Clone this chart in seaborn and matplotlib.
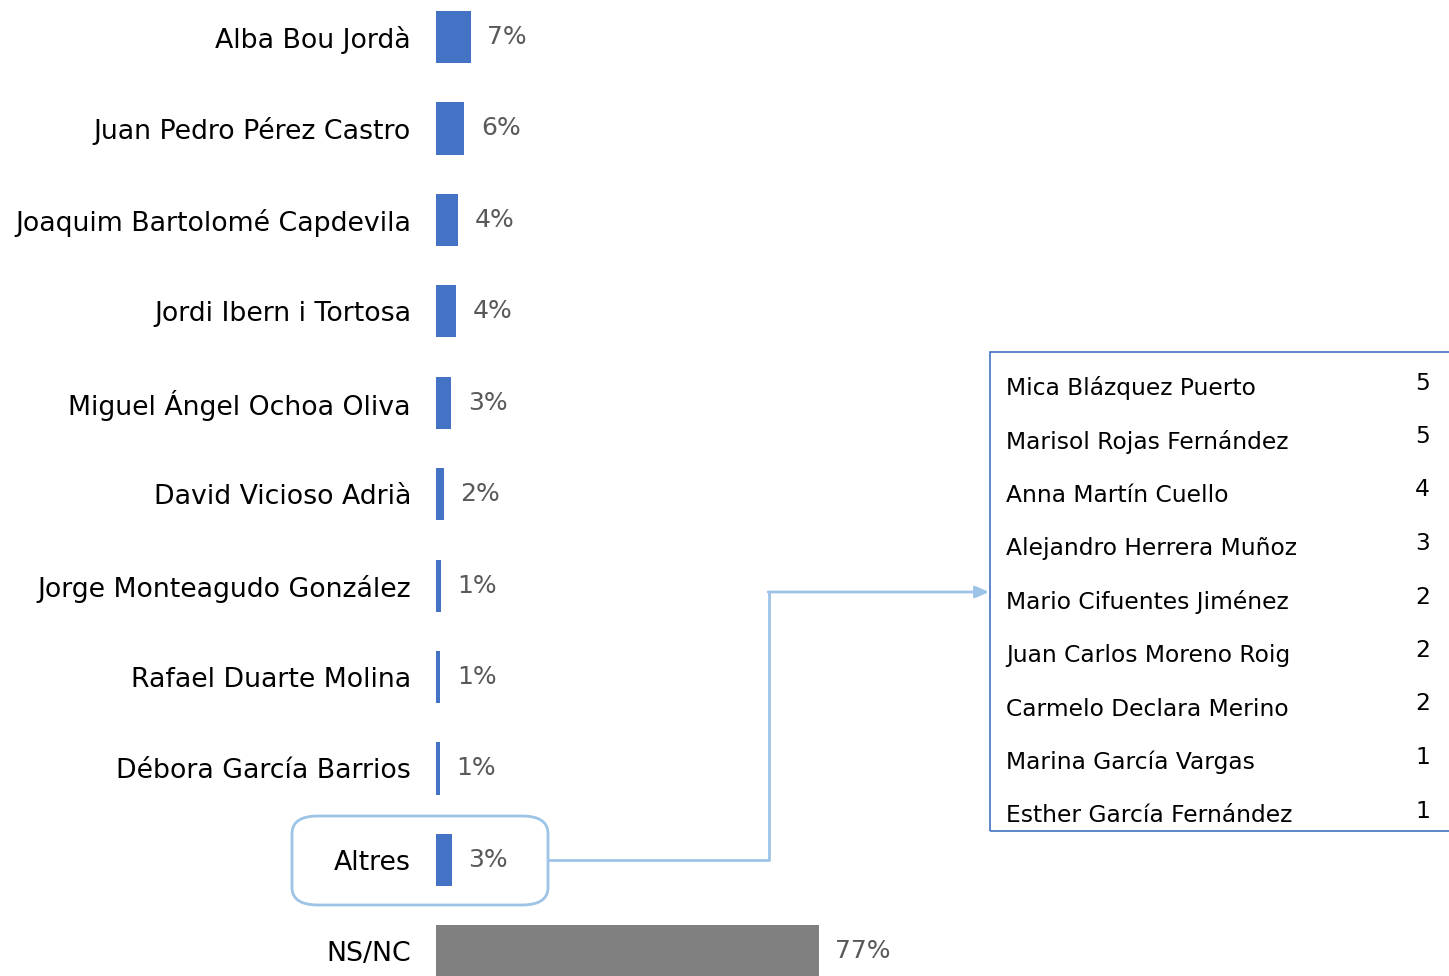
import numpy as np
import matplotlib.pyplot as plt
import seaborn as sns
from matplotlib.patches import FancyBboxPatch, Rectangle
from matplotlib.lines import Line2D

sns.set_style("white")
plt.rcParams["font.family"] = ["DejaVu Sans"]

# Main bar data
candidates = [
    "Alba Bou Jordà",
    "Juan Pedro Pérez Castro",
    "Joaquim Bartolomé Capdevila",
    "Jordi Ibern i Tortosa",
    "Miguel Ángel Ochoa Oliva",
    "David Vicioso Adrià",
    "Jorge Monteagudo González",
    "Rafael Duarte Molina",
    "Débora García Barrios",
    "Altres",
    "NS/NC",
]
shares = [7.0, 5.7, 4.4, 4.0, 3.1, 1.6, 1.0, 0.9, 0.8, 3.2, 77.0]
share_labels = ["7%", "6%", "4%", "4%", "3%", "2%", "1%", "1%", "1%", "3%", "77%"]

# Breakdown of "Altres"
others_names = [
    "Mica Blázquez Puerto",
    "Marisol Rojas Fernández",
    "Anna Martín Cuello",
    "Alejandro Herrera Muñoz",
    "Mario Cifuentes Jiménez",
    "Juan Carlos Moreno Roig",
    "Carmelo Declara Merino",
    "Marina García Vargas",
    "Esther García Fernández",
]
others_counts = [5, 5, 4, 3, 2, 2, 2, 1, 1]

BLUE = "#4472C4"
GREY = "#808080"
LIGHT = "#9DC3E6"

W, H = 1449, 976
fig = plt.figure(figsize=(W / 100, H / 100), dpi=100)


def px(x, y):
    return (x / W, 1 - y / H)


ax = fig.add_axes([436 / W, 0, 1 - 436 / W, 1])
colors = [BLUE] * (len(candidates) - 1) + [GREY]
sns.barplot(x=shares, y=candidates, hue=candidates, palette=colors,
            legend=False, orient="h", width=0.57, saturation=1,
            linewidth=0, ax=ax)

ax.set_xlim(0, (W - 436) / 4.97)
ax.set_ylim(10.27, -0.405)
for c, lab in zip(ax.containers, share_labels):
    ax.bar_label(c, labels=[lab], padding=12, fontsize=18, color="#595959")

ax.set_xticks([])
ax.set_xlabel("")
ax.set_ylabel("")
ax.tick_params(axis="y", length=0, pad=18, labelsize=19.3, labelcolor="black")
sns.despine(ax=ax, left=True, bottom=True)

# Rounded box around "Altres"
x0, y0 = px(292, 905)
x1, y1 = px(548, 816)
fig.patches.append(FancyBboxPatch((x0, y0), x1 - x0, y1 - y0,
                                  boxstyle="round,pad=0,rounding_size=0.018",
                                  transform=fig.transFigure, fill=False,
                                  edgecolor=LIGHT, linewidth=2))

# Connector line
pts = [px(549, 860), px(769, 860), px(769, 592)]
fig.lines.append(Line2D([p[0] for p in pts], [p[1] for p in pts],
                        transform=fig.transFigure, color=LIGHT, linewidth=2))
ax.annotate("", xy=px(989, 592), xytext=px(768, 592),
            xycoords="figure fraction", textcoords="figure fraction",
            arrowprops=dict(arrowstyle="-|>,head_length=0.8,head_width=0.35",
                            color=LIGHT, lw=2, shrinkA=0, shrinkB=0))

# Breakdown box
bx0, by0 = px(990, 831)
bx1, by1 = px(1460, 352)
fig.patches.append(Rectangle((bx0, by0), bx1 - bx0, by1 - by0,
                             transform=fig.transFigure, fill=False,
                             edgecolor=BLUE, linewidth=1.2))

for i, (name, cnt) in enumerate(zip(others_names, others_counts)):
    ny = 388 + i * 53.5
    fig.text(*px(1006, ny), name, fontsize=16.8, va="center", ha="left",
             color="black")
    fig.text(*px(1430, ny - 5), str(cnt), fontsize=16.8, va="center",
             ha="right", color="black")

fig.savefig("out.png", dpi=100)
